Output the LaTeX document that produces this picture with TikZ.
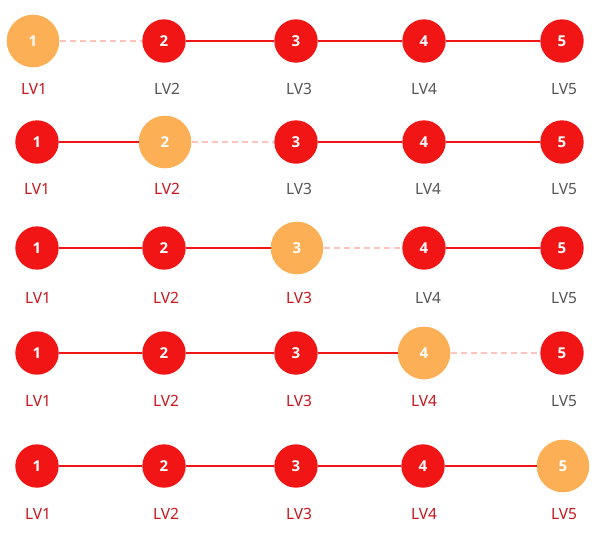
\documentclass[tikz,border=0pt]{standalone}
\usepackage{fontspec}
\setsansfont{Noto Sans}
\newfontfamily\numfont{Open Sans}
\renewcommand{\familydefault}{\sfdefault}
\definecolor{lvred}{HTML}{F11515}
\definecolor{lvorange}{HTML}{FCAF55}
\definecolor{lvpink}{HTML}{FCC4BC}
\definecolor{lvdark}{HTML}{C8161D}
\definecolor{lvgray}{HTML}{555555}
\begin{document}
\begin{tikzpicture}[x=1pt,y=-1pt,
		lvl/.style={circle,fill=lvred,minimum size=43.4pt,inner sep=0pt,text=white,font=\numfont\bfseries\fontsize{15}{15}\selectfont},
		cur/.style={lvl,fill=lvorange,minimum size=52.6pt},
		lab/.style={text=lvgray,font=\fontsize{15.5}{15.5}\selectfont},
		labon/.style={lab,text=lvdark},
		link/.style={draw=lvred,line width=1.6pt},
		linkoff/.style={draw=lvpink,line width=1.8pt,dash pattern=on 6pt off 4pt}]
		\useasboundingbox ( 0, 0 ) rectangle ( 600, 550 );

		% уровень 1
		\node [cur] (a1) at ( 33, 41 ) {1};
		\node [lvl] (a2) at ( 164, 41 ) {2};
		\node [lvl] (a3) at ( 296, 41 ) {3};
		\node [lvl] (a4) at ( 424, 41 ) {4};
		\node [lvl] (a5) at ( 562, 41 ) {5};
		\draw [linkoff] (a1) -- (a2);
		\draw [link] (a2) -- (a3);
		\draw [link] (a3) -- (a4);
		\draw [link] (a4) -- (a5);
		\node [labon] (la1) at ( 34, 89 ) {LV1};
		\node [lab] (la2) at ( 167, 89 ) {LV2};
		\node [lab] (la3) at ( 299, 89 ) {LV3};
		\node [lab] (la4) at ( 424, 89 ) {LV4};
		\node [lab] (la5) at ( 564, 89 ) {LV5};

		% уровень 2
		\node [lvl] (b1) at ( 37, 142 ) {1};
		\node [cur] (b2) at ( 165, 142 ) {2};
		\node [lvl] (b3) at ( 296, 142 ) {3};
		\node [lvl] (b4) at ( 424, 142 ) {4};
		\node [lvl] (b5) at ( 562, 142 ) {5};
		\draw [link] (b1) -- (b2);
		\draw [linkoff] (b2) -- (b3);
		\draw [link] (b3) -- (b4);
		\draw [link] (b4) -- (b5);
		\node [labon] (lb1) at ( 37, 189 ) {LV1};
		\node [labon] (lb2) at ( 167, 189 ) {LV2};
		\node [lab] (lb3) at ( 299, 189 ) {LV3};
		\node [lab] (lb4) at ( 428, 189 ) {LV4};
		\node [lab] (lb5) at ( 564, 189 ) {LV5};

		% уровень 3
		\node [lvl] (c1) at ( 37, 248 ) {1};
		\node [lvl] (c2) at ( 164, 248 ) {2};
		\node [cur] (c3) at ( 297, 248 ) {3};
		\node [lvl] (c4) at ( 424, 248 ) {4};
		\node [lvl] (c5) at ( 562, 248 ) {5};
		\draw [link] (c1) -- (c2);
		\draw [link] (c2) -- (c3);
		\draw [linkoff] (c3) -- (c4);
		\draw [link] (c4) -- (c5);
		\node [labon] (lc1) at ( 38, 298 ) {LV1};
		\node [labon] (lc2) at ( 166, 298 ) {LV2};
		\node [labon] (lc3) at ( 299, 298 ) {LV3};
		\node [lab] (lc4) at ( 428, 298 ) {LV4};
		\node [lab] (lc5) at ( 564, 298 ) {LV5};

		% уровень 4
		\node [lvl] (d1) at ( 37, 353 ) {1};
		\node [lvl] (d2) at ( 164, 353 ) {2};
		\node [lvl] (d3) at ( 296, 353 ) {3};
		\node [cur] (d4) at ( 424, 353 ) {4};
		\node [lvl] (d5) at ( 562, 353 ) {5};
		\draw [link] (d1) -- (d2);
		\draw [link] (d2) -- (d3);
		\draw [link] (d3) -- (d4);
		\draw [linkoff] (d4) -- (d5);
		\node [labon] (ld1) at ( 38, 401 ) {LV1};
		\node [labon] (ld2) at ( 166, 401 ) {LV2};
		\node [labon] (ld3) at ( 299, 401 ) {LV3};
		\node [labon] (ld4) at ( 424, 401 ) {LV4};
		\node [lab] (ld5) at ( 564, 401 ) {LV5};

		% уровень 5
		\node [lvl] (e1) at ( 37, 466 ) {1};
		\node [lvl] (e2) at ( 164, 466 ) {2};
		\node [lvl] (e3) at ( 296, 466 ) {3};
		\node [lvl] (e4) at ( 423, 466 ) {4};
		\node [cur] (e5) at ( 563, 466 ) {5};
		\draw [link] (e1) -- (e2);
		\draw [link] (e2) -- (e3);
		\draw [link] (e3) -- (e4);
		\draw [link] (e4) -- (e5);
		\node [labon] (le1) at ( 38, 514 ) {LV1};
		\node [labon] (le2) at ( 166, 514 ) {LV2};
		\node [labon] (le3) at ( 299, 514 ) {LV3};
		\node [labon] (le4) at ( 424, 514 ) {LV4};
		\node [labon] (le5) at ( 564, 514 ) {LV5};
	\end{tikzpicture}
\end{document}
